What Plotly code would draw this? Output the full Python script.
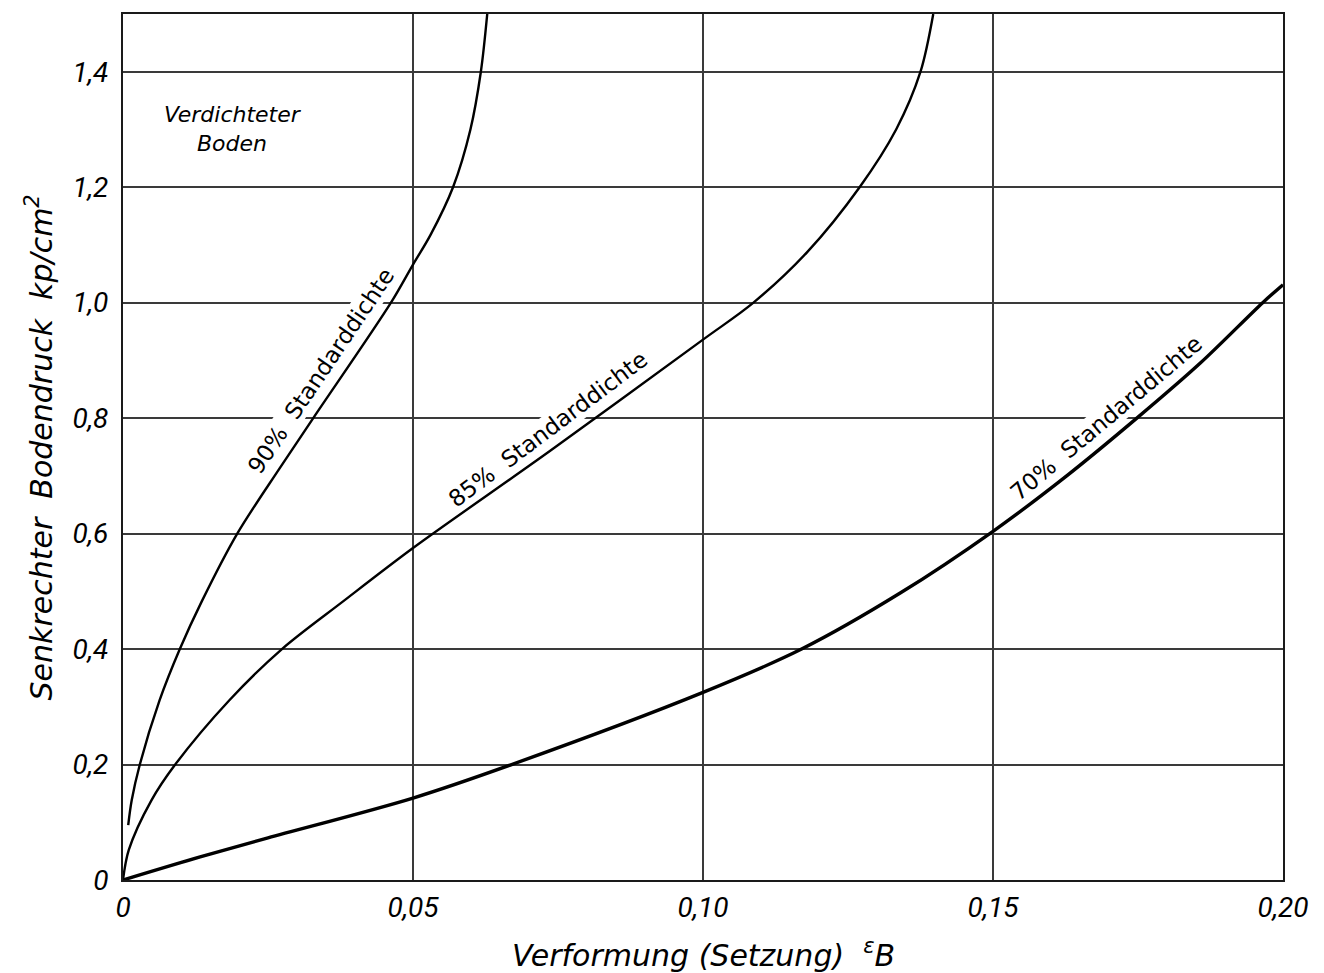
import plotly.graph_objects as go

# Verformung (Setzung) eps_B  vs.  senkrechter Bodendruck [kp/cm2]
x_90 = [0.0009, 0.0015, 0.0029, 0.0063, 0.0098, 0.0136, 0.0197, 0.027, 0.0328, 0.0462, 0.050, 0.053, 0.0569, 0.0599, 0.0617, 0.0628]
y_90 = [0.095, 0.138, 0.200, 0.311, 0.400, 0.483, 0.600, 0.713, 0.800, 1.000, 1.066, 1.117, 1.200, 1.300, 1.400, 1.500]

x_85 = [0.0, 0.0010, 0.0049, 0.009, 0.0183, 0.0274, 0.038, 0.050, 0.0736, 0.100, 0.1087, 0.118, 0.127, 0.1333, 0.1375, 0.1397]
y_85 = [0.0, 0.052, 0.138, 0.200, 0.311, 0.400, 0.483, 0.575, 0.743, 0.936, 1.000, 1.088, 1.200, 1.300, 1.400, 1.500]

x_70 = [0.0, 0.0133, 0.025, 0.050, 0.067, 0.100, 0.117, 0.134, 0.150, 0.1627, 0.1748, 0.1857, 0.1965, 0.200]
y_70 = [0.0, 0.040, 0.073, 0.142, 0.200, 0.325, 0.400, 0.497, 0.604, 0.700, 0.800, 0.895, 1.000, 1.031]

x_ticks = [0, 0.05, 0.10, 0.15, 0.20]
x_tick_text = ["0", "0,05", "0,10", "0,15", "0,20"]
y_ticks = [0, 0.2, 0.4, 0.6, 0.8, 1.0, 1.2, 1.4]
y_tick_text = ["0", "0,2", "0,4", "0,6", "0,8", "1,0", "1,2", "1,4"]

curve_labels = [
    ("90%  Standarddichte", 0.0341, 0.882, -56),
    ("85%  Standarddichte", 0.0733, 0.781, -37),
    ("70%  Standarddichte", 0.1695, 0.801, -40),
]

LABEL_FONT = "DejaVu Sans"
TICK_FONT = "Roboto"

fig = go.Figure()
for xs, ys, w in [(x_90, y_90, 2.4), (x_85, y_85, 2.4), (x_70, y_70, 3.4)]:
    fig.add_trace(go.Scatter(
        x=xs, y=ys, mode="lines",
        line=dict(color="black", width=w, shape="spline", smoothing=0.9),
        showlegend=False, hoverinfo="skip", cliponaxis=True,
    ))

annotations = []
for text, ax, ay, ang in curve_labels:
    annotations.append(dict(
        x=ax, y=ay, xref="x", yref="y", text=text, showarrow=False,
        textangle=ang, font=dict(family=LABEL_FONT, size=23, color="black"),
        xanchor="center", yanchor="middle",
        bgcolor="white", borderpad=0,
    ))

annotations.append(dict(
    x=0.019, y=1.30, xref="x", yref="y",
    text="<i>Verdichteter</i><br><i>Boden</i>", showarrow=False, align="center",
    font=dict(family=LABEL_FONT, size=22, color="black"),
    xanchor="center", yanchor="middle",
))

# axis titles
annotations.append(dict(
    x=0.5, y=-0.085, xref="paper", yref="paper",
    text="<i>Verformung (Setzung)  <sup>ε</sup>B</i>", showarrow=False,
    font=dict(family=LABEL_FONT, size=30, color="black"),
    xanchor="center", yanchor="middle",
))
annotations.append(dict(
    x=-0.072, y=0.5, xref="paper", yref="paper",
    text="<i>Senkrechter  Bodendruck  kp/cm<sup>2</sup></i>", showarrow=False,
    textangle=-90,
    font=dict(family=LABEL_FONT, size=30, color="black"),
    xanchor="center", yanchor="middle",
))

axis_common = dict(
    showgrid=True, gridcolor="#3a3a3a", gridwidth=1.5,
    showline=True, linecolor="#1a1a1a", linewidth=2, mirror=True,
    zeroline=False, ticks="", ticklen=0,
    tickfont=dict(family=TICK_FONT, size=28, color="black", style="italic"),
)

fig.update_layout(
    width=1324, height=973,
    margin=dict(l=123, r=41, t=12, b=93),
    paper_bgcolor="white", plot_bgcolor="white",
    xaxis=dict(range=[0, 0.20], tickvals=x_ticks, ticktext=x_tick_text,
               ticklabelstandoff=1, **axis_common),
    yaxis=dict(range=[0, 1.5], tickvals=y_ticks, ticktext=y_tick_text,
               ticklabelstandoff=7, **axis_common),
    annotations=annotations,
)

fig.write_html("out.html")
